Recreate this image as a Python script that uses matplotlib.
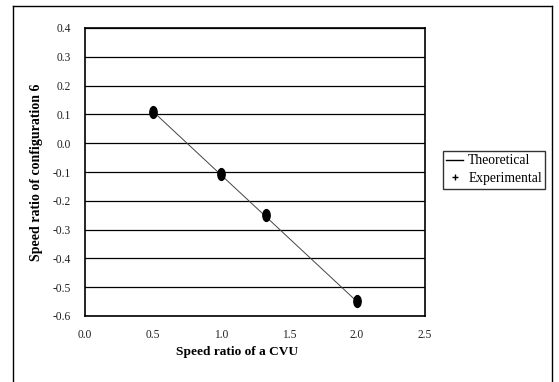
import matplotlib
matplotlib.use("Agg")
import matplotlib.pyplot as plt
from matplotlib.path import Path
from matplotlib.lines import Line2D
import numpy as np

plt.rcParams['font.family'] = ['Liberation Serif', 'DejaVu Serif']
plt.rcParams['axes.unicode_minus'] = False

# Data
cvu_ratio = [0.5, 1.0, 1.33, 2.0]
theoretical = [0.11, -0.11, -0.255, -0.55]
experimental = [0.11, -0.108, -0.25, -0.548]
x_ticks = [0.0, 0.5, 1.0, 1.5, 2.0, 2.5]
y_ticks = [0.4, 0.3, 0.2, 0.1, 0.0, -0.1, -0.2, -0.3, -0.4, -0.5, -0.6]

W, H = 559, 382
fig = plt.figure(figsize=(W / 100, H / 100), dpi=100)
ax = fig.add_axes([85 / W, 1 - 316 / H, (425 - 85) / W, (316 - 28) / H])

# Horizontal gridlines
for yv in y_ticks:
    ax.axhline(yv, color='black', lw=0.9, zorder=1)

ax.plot(cvu_ratio, theoretical, color='#444444', lw=0.7, zorder=2)

# Tall ellipse marker
circ = Path.unit_circle()
ell = Path(circ.vertices * np.array([0.62, 1.0]), circ.codes)
ax.plot(cvu_ratio, experimental, linestyle='none', marker=ell, markersize=8.5,
        color='black', zorder=3)

ax.set_xlim(0, 2.5)
ax.set_ylim(-0.6, 0.4)
ax.set_xticks(x_ticks)
ax.set_xticklabels([f"{v:.1f}" for v in x_ticks])
ax.set_yticks(y_ticks)
ax.set_yticklabels([f"{v:.1f}" for v in y_ticks])
ax.tick_params(axis='both', length=0, labelsize=8.3, colors='#222222')
ax.tick_params(axis='x', pad=9)
ax.tick_params(axis='y', pad=10)
for s in ax.spines.values():
    s.set_linewidth(1.2)
    s.set_color('black')

fig.text(237 / W, 1 - 352 / H, "Speed ratio of a CVU", ha='center', va='center',
         fontsize=9.6, fontweight='bold')
fig.text(37 / W, 1 - 172 / H, "Speed ratio of configuration 6", ha='center',
         va='center', rotation=90, fontsize=10, fontweight='bold')

# Legend
handles = [Line2D([], [], color='black', lw=1.0),
           Line2D([], [], linestyle='none', marker='+', markersize=4,
                  color='black', markeredgewidth=1.0)]
leg = fig.legend(handles, ["Theoretical", "Experimental"],
                 loc='upper left', bbox_to_anchor=(443 / W, 1 - 151 / H),
                 frameon=True, fancybox=False, edgecolor='black',
                 fontsize=9.8, handlelength=1.2, handletextpad=0.4,
                 borderpad=0.25, labelspacing=0.35, borderaxespad=0)
leg.get_frame().set_linewidth(1.0)

# Outer chart frame
frame_kw = dict(color='black', lw=1.0, transform=fig.transFigure)
fig.add_artist(Line2D([13 / W, 13 / W], [0, 1 - 6 / H], **frame_kw))
fig.add_artist(Line2D([13 / W, 552 / W], [1 - 6 / H, 1 - 6 / H], **frame_kw))
fig.add_artist(Line2D([552 / W, 552 / W], [0, 1 - 6 / H], **frame_kw))

fig.savefig("out.png", dpi=100)
